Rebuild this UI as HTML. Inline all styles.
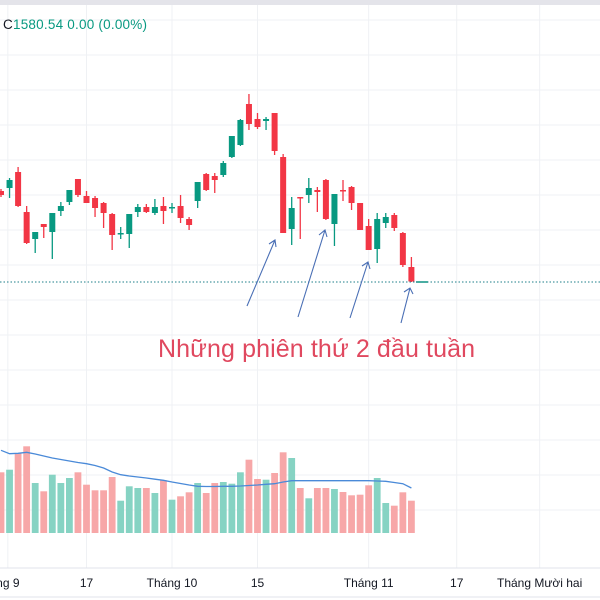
<!DOCTYPE html>
<html><head><meta charset="utf-8"><style>
html,body{margin:0;padding:0;background:#fff;width:600px;height:600px;overflow:hidden}
svg{display:block;font-family:"Liberation Sans","DejaVu Sans",sans-serif}
</style></head><body>
<svg id="chart" width="600" height="600" viewBox="0 0 600 600">
<rect x="0" y="0" width="600" height="5" fill="#e4e4ea"/>
<g id="grid"></g>
<g id="volumes"></g>
<g id="candles"></g>
<line x1="0" y1="282" x2="600" y2="282" stroke="#1e7f8a" stroke-width="1" stroke-dasharray="1.5,2"/>
<line x1="0" y1="568" x2="600" y2="568" stroke="#e0e3eb"/>
<line x1="0" y1="597" x2="600" y2="597" stroke="#e0e3eb"/>
<g id="xlabels"></g>
<text x="3" y="29" font-size="13.5" textLength="144"><tspan fill="#131722">C</tspan><tspan fill="#089981">1580.54  0.00 (0.00%)</tspan></text>
<g stroke="#4a6fb5" stroke-width="1.1" fill="none">
<path d="M247 306 L275 240 M269 244 L275 240 L276 247"/>
<path d="M298 317 L325 230 M319 235 L325 230 L327 237"/>
<path d="M350 318 L368 262 M362 266 L368 262 L370 269"/>
<path d="M401 323 L410 288 M404 292 L410 288 L413 294"/>
</g>
<text x="158" y="357" font-size="25" textLength="317" fill="#e0485f">Những phiên thứ 2 đầu tuần</text>
</svg>
<script>
const opens  = [1671,1674,1690,1650,1623,1638,1630,1651,1660,1683,1666,1664,1659,1648,1628,1628,1650,1655,1649,1656,1654,1656,1643,1661,1688,1686,1687,1705,1717,1758,1743,1741,1749,1705,1633,1665,1667,1672,1682,1638,1672,1675,1659,1636,1613,1639,1647,1629,1595];
const highs  = [1673,1684,1695,1656,1630,1638,1649,1660,1672,1683,1671,1666,1660,1649,1635,1648,1658,1658,1663,1665,1659,1667,1645,1680,1689,1689,1701,1726,1743,1768,1749,1745,1749,1708,1665,1665,1684,1675,1683,1668,1682,1676,1659,1643,1649,1649,1649,1630,1605];
const lows   = [1665,1664,1655,1618,1609,1624,1603,1646,1657,1665,1659,1645,1634,1612,1623,1614,1645,1649,1647,1638,1649,1639,1632,1654,1671,1669,1685,1704,1716,1732,1733,1732,1707,1629,1617,1623,1659,1650,1642,1616,1661,1652,1632,1612,1599,1634,1631,1595,1580];
const closes = [1667,1682,1656,1619,1630,1635,1649,1656,1672,1667,1659,1654,1649,1627,1629,1648,1655,1650,1655,1651,1655,1644,1637,1680,1672,1682,1699,1726,1742,1738,1735,1743,1711,1629,1654,1664,1674,1670,1643,1668,1671,1659,1632,1612,1643,1645,1634,1597,1580.54];
const volumes = [607,633,800,867,500,417,583,500,550,607,483,427,427,560,323,467,450,450,400,527,333,367,407,500,400,500,510,493,607,733,540,533,600,807,750,450,347,450,450,440,410,377,383,477,550,300,273,407,323];
const volMA = [827,793,797,807,790,770,750,735,720,705,693,675,650,610,583,570,560,550,538,527,510,495,480,467,465,465,467,467,470,475,480,487,493,510,523,523,523,523,523,523,523,523,523,523,520,517,505,493,450];
const xTickLabels = ["ng 9","17","Tháng 10","15","Tháng 11","17","Tháng Mười hai"];
const xTickBars = [0.8,10,20,30,43,53.3,63];

const NS="http://www.w3.org/2000/svg";
const xAt = i => 1 + i*8.55;
const yPrice = p => 1862 - p;
const yVol = v => 533 - v/10;
function mk(tag, attrs, parent){const e=document.createElementNS(NS,tag);for(const k in attrs)e.setAttribute(k,attrs[k]);parent.appendChild(e);return e;}

const grid=document.getElementById('grid');
[20,55,90,125,160,195,230,265,300,335,370,405,440,475,510].forEach(y=>{
  const l=mk('line',{x1:0,x2:600,y1:y,y2:y,stroke:'#eff1f4'},grid);
  
  
});
xTickBars.forEach(b=>{
  const l=mk('line',{x1:xAt(b),x2:xAt(b),y1:5,y2:568,stroke:'#eff1f4'},grid);
  
  
});

const vg=document.getElementById('volumes');
volumes.forEach((v,i)=>{
  const up=closes[i]>=opens[i];
  const r=mk('rect',{x:xAt(i)-3.4,y:yVol(v),width:6.8,height:533-yVol(v),fill:up?'#86d3c3':'#f7a7a8'},vg);
  
  
});
const pts=volMA.map((v,i)=>xAt(i)+','+yVol(v)).join(' ');
const ma=mk('polyline',{points:pts,fill:'none',stroke:'#4a8ad8','stroke-width':1.3},vg);



const cg=document.getElementById('candles');
opens.forEach((o,i)=>{
  const c=closes[i],up=c>=o,col=up?'#089981':'#f23645',x=xAt(i);
  const g=mk('g',{},cg);
  
  
  mk('line',{x1:x,x2:x,y1:yPrice(highs[i]),y2:yPrice(lows[i]),stroke:col,'stroke-width':1.3},g);
  const t=yPrice(Math.max(o,c)),b=yPrice(Math.min(o,c));
  mk('rect',{x:x-3,y:t,width:6,height:Math.max(1.5,b-t),fill:col},g);
});
mk('line',{x1:416,x2:428,y1:282,y2:282,stroke:'#089981','stroke-width':1.5},cg);

const xl=document.getElementById('xlabels');
xTickLabels.forEach((s,i)=>{
  const t=mk('text',{x:xAt(xTickBars[i]),y:587,'font-size':12,fill:'#131722','text-anchor':'middle'},xl);
  t.textContent=s;
  
  
});
</script>
</body></html>
